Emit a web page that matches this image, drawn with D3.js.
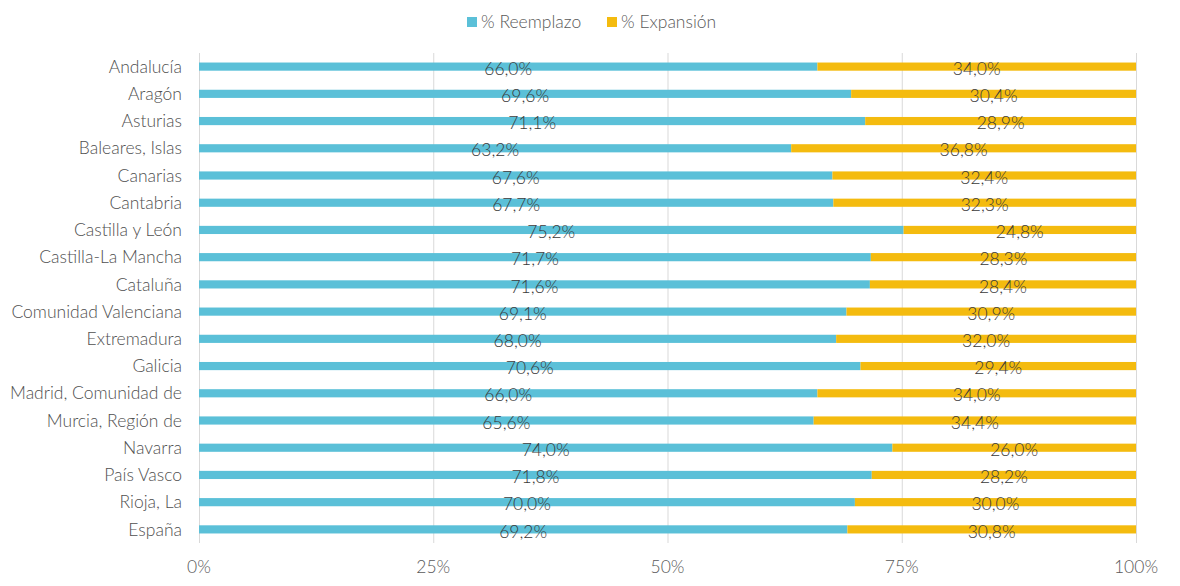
<!DOCTYPE html>
<html><head><meta charset="utf-8">
<script src="https://cdn.jsdelivr.net/npm/d3@7"></script>
<style>body{margin:0;background:#fff;} text{font-family:Lato, "Open Sans", sans-serif;}</style>
</head><body>
<svg id="c" width="1180" height="586"></svg>
<script>
const categories = ["Andalucía","Aragón","Asturias","Baleares, Islas","Canarias","Cantabria","Castilla y León","Castilla-La Mancha","Cataluña","Comunidad Valenciana","Extremadura","Galicia","Madrid, Comunidad de","Murcia, Región de","Navarra","País Vasco","Rioja, La","España"];
const reemplazo = [66.0,69.6,71.1,63.2,67.6,67.7,75.2,71.7,71.6,69.1,68.0,70.6,66.0,65.6,74.0,71.8,70.0,69.2];
const expansion = [34.0,30.4,28.9,36.8,32.4,32.3,24.8,28.3,28.4,30.9,32.0,29.4,34.0,34.4,26.0,28.2,30.0,30.8];
const seriesNames = ["% Reemplazo","% Expansión"];
const xTicks = [0,25,50,75,100];
const colors = ["#5bc0d8","#f4bb0f"];

const svg = d3.select("#c");
const x = d3.scaleLinear().domain([0,100]).range([199,1136]);
const y = d3.scaleBand().domain(categories).range([53,543]).paddingInner(0.7).paddingOuter(0.35);
const fmt = v => v.toFixed(1).replace(".", ",") + "%";
const FS = "17.5px";

svg.append("g").selectAll("line").data(xTicks).join("line")
  .attr("x1", d=>x(d)+0.5).attr("x2", d=>x(d)+0.5).attr("y1",53).attr("y2",543)
  .attr("stroke","#d9d9d9").attr("stroke-width",1);

svg.append("g").selectAll("text").data(xTicks).join("text")
  .attr("x", d=>x(d)).attr("y",573).attr("text-anchor","middle")
  .attr("fill","#595959").style("font-size",FS).style("font-weight",300)
  .text(d=>d+"%");

svg.append("g").selectAll("text").data(categories).join("text")
  .attr("x",182).attr("y", d=>y(d)+y.bandwidth()/2).attr("dy","0.35em")
  .attr("text-anchor","end").attr("fill","#505050").style("font-size",FS).style("font-weight",300)
  .text(d=>d);

const rows = categories.map((c,i)=>({c, r:reemplazo[i], e:expansion[i]}));
const g = svg.append("g");
g.selectAll("rect.r").data(rows).join("rect").attr("class","r")
  .attr("x", x(0)).attr("y", d=>y(d.c)).attr("height", y.bandwidth())
  .attr("width", d=>x(d.r)-x(0)).attr("fill", colors[0]);
g.selectAll("rect.e").data(rows).join("rect").attr("class","e")
  .attr("x", d=>x(d.r)).attr("y", d=>y(d.c)).attr("height", y.bandwidth())
  .attr("width", d=>x(d.r+d.e)-x(d.r)).attr("fill", colors[1]);

g.selectAll("text.lr").data(rows).join("text").attr("class","lr")
  .attr("x", d=>x(d.r/2)).attr("y", d=>y(d.c)+y.bandwidth()/2+2).attr("dy","0.35em")
  .attr("text-anchor","middle").attr("fill","#3a3a3a").style("font-size",FS).style("font-weight",300)
  .text(d=>fmt(d.r));
g.selectAll("text.le").data(rows).join("text").attr("class","le")
  .attr("x", d=>x(d.r + d.e/2)).attr("y", d=>y(d.c)+y.bandwidth()/2+2).attr("dy","0.35em")
  .attr("text-anchor","middle").attr("fill","#3a3a3a").style("font-size",FS).style("font-weight",300)
  .text(d=>fmt(d.e));

const leg = svg.append("g");
const legX = [467, 607];
seriesNames.forEach((s,i)=>{
  leg.append("rect").attr("x",legX[i]).attr("y",17).attr("width",10).attr("height",10).attr("fill",colors[i]);
  leg.append("text").attr("x",legX[i]+14).attr("y",22).attr("dy","0.35em")
    .attr("fill","#595959").style("font-size",FS).style("font-weight",300).text(s);
});
</script>
</body></html>
